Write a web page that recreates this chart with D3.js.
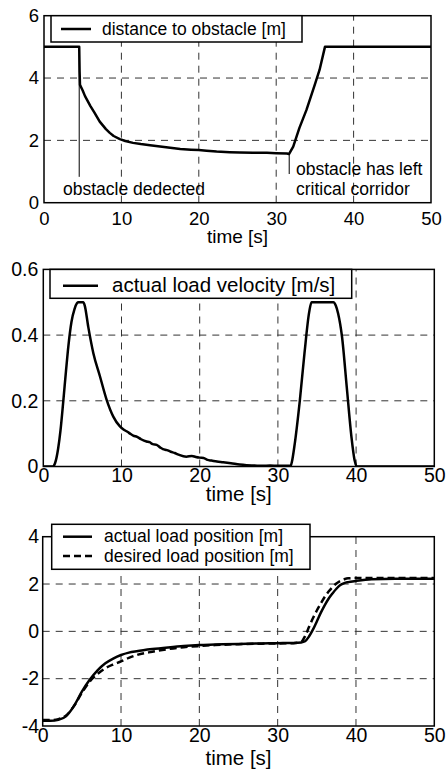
<!DOCTYPE html>
<html>
<head>
<meta charset="utf-8">
<script src="https://cdn.jsdelivr.net/npm/d3@7"></script>
<style>
  html, body { margin: 0; padding: 0; background: #fff; }
  svg { display: block; }
  text { font-family: "Liberation Sans", Arial, Helvetica, sans-serif; fill: #000; }
</style>
</head>
<body>
<div id="chart"></div>
<script>
// ---------------- data ----------------
const xTicks = [0, 10, 20, 30, 40, 50];
const xLabel = "time [s]";

// panel 1: distance to obstacle
const timeDist = [0, 4.55, 4.6, 4.65, 5, 5.3, 6, 6.5, 7.2, 8, 8.5, 9, 9.8, 10.5, 11.5, 12.5, 13.7, 15, 16.3, 17.6, 19, 20, 21, 22.3, 24, 25.3, 27, 28.8, 30, 31.4, 31.65, 32.2, 33, 33.9, 35, 35.6, 36.3, 50];
const distance = [5, 5, 4.2, 3.78, 3.6, 3.42, 3.1, 2.9, 2.6, 2.36, 2.24, 2.14, 2.04, 1.98, 1.92, 1.88, 1.84, 1.8, 1.76, 1.72, 1.7, 1.69, 1.67, 1.64, 1.62, 1.61, 1.6, 1.6, 1.59, 1.58, 1.56, 1.8, 2.4, 2.97, 3.8, 4.26, 5, 5];
const distTicks = [0, 2, 4, 6];
const distLegend = ["distance to obstacle [m]"];
const annotTimes = [4.55, 31.68];
const annotTop = [5, 1.57];
const annotBottom = [0.83, 0.92];
const annotLines = [["obstacle dedected"], ["obstacle has left", "critical corridor"]];

// panel 2: actual load velocity
const timeVel = [0, 1.2, 1.5, 1.9, 2.2, 2.56, 2.9, 3.2, 3.6, 4, 4.3, 4.5, 5.1, 5.3, 5.75, 6.4, 7.25, 8.1, 8.95, 9.8, 10.3, 10.8, 11.1, 11.5, 12, 12.5, 13.2, 13.6, 14, 14.5, 15, 15.3, 15.8, 16.3, 16.8, 17.3, 18.3, 19, 19.5, 20, 20.5, 21, 21.5, 22.2, 23, 24, 25.1, 26, 27, 28, 29, 30, 31.5, 31.6, 31.8, 32.1, 32.8, 33.4, 34.0, 34.3, 37.1, 37.4, 37.7, 38.2, 38.8, 39.4, 39.8, 40.1, 50];
const velocity = [0, 0, 0.01, 0.055, 0.11, 0.2, 0.29, 0.365, 0.44, 0.48, 0.497, 0.5, 0.5, 0.49, 0.425, 0.345, 0.274, 0.203, 0.152, 0.122, 0.112, 0.105, 0.1, 0.094, 0.09, 0.083, 0.076, 0.074, 0.068, 0.066, 0.057, 0.053, 0.05, 0.045, 0.041, 0.036, 0.03, 0.032, 0.029, 0.027, 0.026, 0.02, 0.018, 0.015, 0.013, 0.01, 0.006, 0.004, 0.003, 0.002, 0.003, 0.002, 0.002, 0, 0.015, 0.06, 0.2, 0.345, 0.47, 0.5, 0.5, 0.49, 0.466, 0.395, 0.243, 0.091, 0.02, 0, 0];
const velTicks = [0, 0.2, 0.4, 0.6];
const velLegend = ["actual load velocity [m/s]"];

// panel 3: load position
const timePos = [0, 1, 2, 3, 4, 5, 6, 7, 8, 9, 10, 11, 12, 14, 16, 18, 20, 22, 25, 28, 30, 32, 33, 33.5, 34, 34.5, 35, 35.5, 36, 36.5, 37, 37.5, 38, 38.5, 39, 40, 42, 45, 50];
const actualPos = [-3.78, -3.78, -3.74, -3.58, -3.15, -2.55, -2.05, -1.65, -1.35, -1.15, -1.0, -0.9, -0.84, -0.75, -0.68, -0.62, -0.58, -0.56, -0.53, -0.51, -0.5, -0.49, -0.47, -0.42, -0.22, 0.07, 0.42, 0.78, 1.1, 1.38, 1.6, 1.8, 1.96, 2.04, 2.08, 2.13, 2.2, 2.22, 2.22];
const desiredPos = [-3.75, -3.75, -3.71, -3.55, -3.15, -2.6, -2.12, -1.8, -1.56, -1.4, -1.27, -1.12, -1.0, -0.86, -0.75, -0.67, -0.62, -0.58, -0.54, -0.52, -0.51, -0.5, -0.45, -0.2, 0.18, 0.55, 0.88, 1.17, 1.45, 1.68, 1.87, 2.02, 2.13, 2.2, 2.24, 2.25, 2.25, 2.25, 2.25];
const posTicks = [-4, -2, 0, 2, 4];
const posLegend = ["actual load position [m]", "desired load position [m]"];

// ---------------- drawing ----------------
const W = 446, H = 773;
const svg = d3.select("#chart").append("svg").attr("width", W).attr("height", H);

const GRID_DASH = "7,6";

function panel(cfg) {
  const x = d3.scaleLinear().domain([0, 50]).range([cfg.left, cfg.right]);
  const y = d3.scaleLinear().domain(cfg.yDomain).range([cfg.bottom, cfg.top]);
  const g = svg.append("g");
  const clipId = "clip" + cfg.id;
  svg.append("clipPath").attr("id", clipId).append("rect")
    .attr("x", cfg.left).attr("y", cfg.top)
    .attr("width", cfg.right - cfg.left).attr("height", cfg.bottom - cfg.top);

  // grid
  g.append("g").selectAll("line").data(xTicks.slice(1, -1)).join("line")
    .attr("x1", d => x(d)).attr("x2", d => x(d))
    .attr("y1", cfg.bottom).attr("y2", cfg.top)
    .attr("stroke", "#333").attr("stroke-width", 1).attr("stroke-dasharray", GRID_DASH);
  g.append("g").selectAll("line").data(cfg.yTicks.slice(1, -1)).join("line")
    .attr("y1", d => y(d)).attr("y2", d => y(d))
    .attr("x1", cfg.left).attr("x2", cfg.right)
    .attr("stroke", "#333").attr("stroke-width", 1).attr("stroke-dasharray", GRID_DASH);

  // axes (labels only)
  const xa = g.append("g").attr("transform", `translate(0,${cfg.bottom})`)
    .call(d3.axisBottom(x).tickValues(xTicks).tickSize(0).tickPadding(cfg.xPad).tickFormat(d3.format("d")));
  xa.select(".domain").remove();
  xa.selectAll("text").style("font-size", cfg.tickFont + "px").style("font-family", "Liberation Sans, Arial, sans-serif").attr("fill", "#000");
  const ya = g.append("g").attr("transform", `translate(${cfg.left},0)`)
    .call(d3.axisLeft(y).tickValues(cfg.yTicks).tickSize(0).tickPadding(cfg.yPad).tickFormat(cfg.yFormat));
  ya.select(".domain").remove();
  ya.selectAll("text").style("font-size", cfg.tickFont + "px").style("font-family", "Liberation Sans, Arial, sans-serif").attr("fill", "#000");

  g.append("text").attr("x", (cfg.left + cfg.right) / 2).attr("y", cfg.labelY)
    .attr("text-anchor", "middle").style("font-size", cfg.labelFont + "px").text(xLabel);

  // series
  const lines = g.append("g").attr("clip-path", `url(#${clipId})`);
  cfg.series.forEach(s => {
    const pts = s.t.map((t, i) => [t, s.v[i]]);
    lines.append("path").datum(pts)
      .attr("d", d3.line().x(d => x(d[0])).y(d => y(d[1])).curve(s.curve))
      .attr("fill", "none").attr("stroke", "#000").attr("stroke-width", 2.5)
      .attr("stroke-linejoin", "round")
      .attr("stroke-dasharray", s.dash || null);
  });

  // frame
  g.append("rect").attr("x", cfg.left).attr("y", cfg.top)
    .attr("width", cfg.right - cfg.left).attr("height", cfg.bottom - cfg.top)
    .attr("fill", "none").attr("stroke", "#000").attr("stroke-width", 1.5);

  // legend
  const lg = g.append("g");
  lg.append("rect").attr("x", cfg.legend.x0).attr("y", cfg.legend.y0)
    .attr("width", cfg.legend.x1 - cfg.legend.x0).attr("height", cfg.legend.y1 - cfg.legend.y0)
    .attr("fill", "#fff").attr("stroke", "#000").attr("stroke-width", 1.5);
  cfg.legend.items.forEach((txt, i) => {
    const s = cfg.series[i];
    const ly = cfg.legend.lineY[i];
    lg.append("line").attr("x1", cfg.legend.lx0).attr("x2", cfg.legend.lx1)
      .attr("y1", ly).attr("y2", ly)
      .attr("stroke", "#000").attr("stroke-width", 2.5)
      .attr("stroke-dasharray", s.dash || null);
    lg.append("text").attr("x", cfg.legend.tx).attr("y", cfg.legend.textY[i])
      .style("font-size", cfg.legend.font + "px").text(txt);
  });
  return { x, y, g };
}

// Panel 1
const p1 = panel({
  id: 1, left: 44, right: 431, top: 15.7, bottom: 202.7,
  yDomain: [0, 6], yTicks: distTicks, yFormat: d3.format("d"),
  tickFont: 18.5, labelFont: 19, xPad: 9, yPad: 5, labelY: 242.5,
  series: [{ t: timeDist, v: distance, curve: d3.curveLinear }],
  legend: { x0: 51, x1: 302, y0: 15.7, y1: 42, lx0: 61, lx1: 91, lineY: [29], tx: 102, textY: [35], font: 17.5, items: distLegend }
});

// annotations in panel 1
annotTimes.forEach((t, i) => {
  p1.g.append("line")
    .attr("x1", p1.x(t)).attr("x2", p1.x(t))
    .attr("y1", p1.y(annotTop[i])).attr("y2", p1.y(annotBottom[i]))
    .attr("stroke", "#000").attr("stroke-width", 1);
});
const annotX = [63, 296];
const annotY0 = [194.5, 174.5];
annotLines.forEach((lines, i) => {
  lines.forEach((s, j) => {
    p1.g.append("text").attr("x", annotX[i]).attr("y", annotY0[i] + j * 20)
      .style("font-size", "17.5px").text(s);
  });
});

// Panel 2
panel({
  id: 2, left: 43.3, right: 434.3, top: 269.4, bottom: 466.5,
  yDomain: [0, 0.6], yTicks: velTicks, yFormat: d => d === 0 ? "0" : d.toFixed(1),
  tickFont: 19.5, labelFont: 20.5, xPad: 2, yPad: 5, labelY: 501,
  series: [{ t: timeVel, v: velocity, curve: d3.curveMonotoneX }],
  legend: { x0: 50, x1: 351.7, y0: 269.4, y1: 298.3, lx0: 63, lx1: 98, lineY: [285.7], tx: 112, textY: [291.7], font: 20.5, items: velLegend }
});

// Panel 3
panel({
  id: 3, left: 42.7, right: 434.3, top: 536.7, bottom: 726,
  yDomain: [-4, 4], yTicks: posTicks, yFormat: d => String(d),
  tickFont: 19.5, labelFont: 20.5, xPad: 2.3, yPad: 3.5, labelY: 765,
  series: [
    { t: timePos, v: actualPos, curve: d3.curveMonotoneX },
    { t: timePos, v: desiredPos, curve: d3.curveMonotoneX, dash: "7,4" }
  ],
  legend: { x0: 51.7, x1: 310, y0: 524.3, y1: 569.3, lx0: 63, lx1: 92, lineY: [536.7, 556], tx: 104, textY: [542.3, 562.3], font: 17.5, items: posLegend }
});
</script>
</body>
</html>
